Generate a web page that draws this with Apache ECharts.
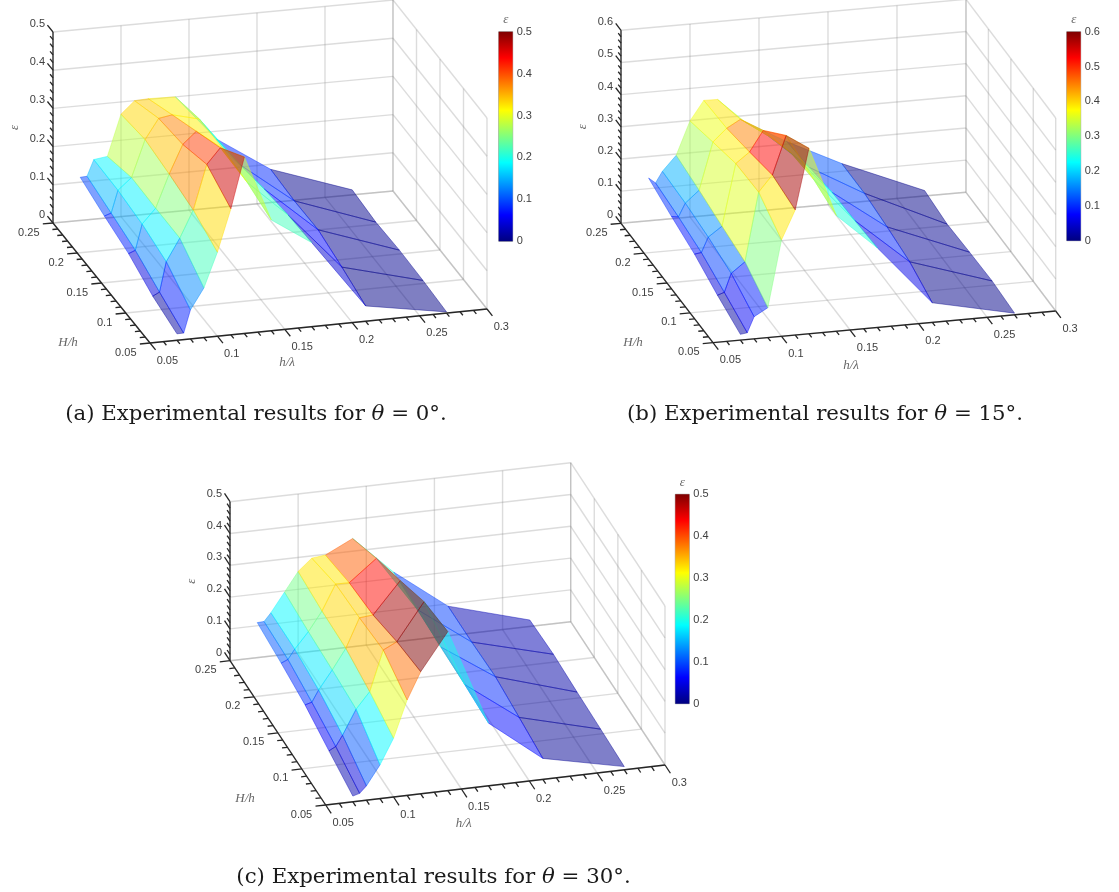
<!DOCTYPE html>
<html>
<head>
<meta charset="utf-8">
<title>Experimental results</title>
<style>
html,body{margin:0;padding:0;background:#fff;}
#main{width:1119px;height:892px;}
</style>
<script src="https://cdn.jsdelivr.net/npm/echarts@6/dist/echarts.min.js"></script>
</head>
<body>
<div id="main"></div>
<script>
// h/lambda and H/h of the measured points
var xValues = [0.07, 0.075, 0.08, 0.09, 0.1, 0.11, 0.12, 0.14, 0.17, 0.21, 0.27];
var yValues = [0.05, 0.1, 0.15, 0.2, 0.25];

// epsilon, one row per H/h
var epsA = [
    [0.017, 0.017, 0.076, 0.13, 0.22, 0.33, 0.462, 0.29, 0.22, 0.04, 0.003],
    [0.037, 0.046, 0.124, 0.182, 0.252, 0.368, 0.408, 0.31, 0.215, 0.064, 0.008],
    [0.07, 0.077, 0.144, 0.182, 0.268, 0.342, 0.373, 0.32, 0.205, 0.084, 0.01],
    [0.09, 0.096, 0.154, 0.184, 0.28, 0.332, 0.338, 0.32, 0.19, 0.082, 0.006],
    [0.113, 0.114, 0.156, 0.161, 0.268, 0.3, 0.302, 0.3, 0.18, 0.087, 0.013]
];
var epsB = [
    [0.018, 0.021, 0.069, 0.093, 0.3, 0.389, 0.577, 0.36, 0.247, 0.061, 0.005],
    [0.047, 0.054, 0.111, 0.143, 0.356, 0.405, 0.524, 0.38, 0.24, 0.096, 0.013],
    [0.082, 0.085, 0.131, 0.161, 0.352, 0.384, 0.447, 0.37, 0.235, 0.112, 0.01],
    [0.106, 0.103, 0.144, 0.18, 0.326, 0.365, 0.389, 0.33, 0.22, 0.124, 0.005],
    [0.133, 0.116, 0.15, 0.196, 0.299, 0.359, 0.358, 0.28, 0.208, 0.124, 0.017]
];
var epsC = [
    [0.018, 0.024, 0.045, 0.106, 0.185, 0.3, 0.384, 0.5, 0.197, 0.066, 0.01],
    [0.047, 0.058, 0.091, 0.168, 0.218, 0.344, 0.365, 0.481, 0.205, 0.082, 0.015],
    [0.078, 0.084, 0.12, 0.178, 0.241, 0.332, 0.336, 0.434, 0.21, 0.097, 0.019],
    [0.096, 0.105, 0.135, 0.185, 0.245, 0.325, 0.324, 0.391, 0.215, 0.093, 0.025],
    [0.11, 0.111, 0.136, 0.196, 0.256, 0.293, 0.298, 0.34, 0.22, 0.093, 0.02]
];

// tick labels
var xTicks = [0.05, 0.1, 0.15, 0.2, 0.25, 0.3];
var yTicks = [0.05, 0.1, 0.15, 0.2, 0.25];
var zTicksA = [0, 0.1, 0.2, 0.3, 0.4, 0.5];
var zTicksB = [0, 0.1, 0.2, 0.3, 0.4, 0.5, 0.6];
var zTicksC = [0, 0.1, 0.2, 0.3, 0.4, 0.5];

var jet = ['#00007f', '#0000ff', '#007fff', '#00ffff', '#7fff7f', '#ffff00', '#ff7f00', '#ff0000', '#7f0000'];

var xMin = 0.05, xMax = 0.3, yMin = 0.05, yMax = 0.25;

// screen corners of the floor of each box: B = near, C = right, A = left, D = back
var panels = [
    {eps: epsA, zTicks: zTicksA, A: [53, 223], B: [150, 343], C: [487, 309], D: [393, 191], h: 191,
        bar: [498.7, 31.7, 14, 209.6], hLabel: [-82, 0], lLabel: [137, 20],
        caption: '(a) Experimental results for {i|θ} = 0°.', capX: 256, capY: 412},
    {eps: epsB, zTicks: zTicksB, A: [621, 223.3], B: [713, 342.7], C: [1055.7, 311], D: [966, 192.3], h: 193,
        bar: [1066.7, 31.7, 14, 209], hLabel: [-80, 0], lLabel: [138, 23],
        caption: '(b) Experimental results for {i|θ} = 15°.', capX: 825, capY: 412},
    {eps: epsC, zTicks: zTicksC, A: [230, 660.7], B: [325.7, 805], C: [665, 765], D: [570.7, 621.7], h: 159,
        bar: [675.3, 494.3, 14, 209.4], hLabel: [-80.7, -6.7], lLabel: [138, 19],
        caption: '(c) Experimental results for {i|θ} = 30°.', capX: 433.5, capY: 875}
];

function project(p, x, y, z){
    var s = (x - xMin) / (xMax - xMin);
    var t = (y - yMin) / (yMax - yMin);
    var zMax = p.zTicks[p.zTicks.length - 1];
    return [
        p.B[0] * (1 - s) * (1 - t) + p.C[0] * s * (1 - t) + p.A[0] * (1 - s) * t + p.D[0] * s * t,
        p.B[1] * (1 - s) * (1 - t) + p.C[1] * s * (1 - t) + p.A[1] * (1 - s) * t + p.D[1] * s * t - p.h * z / zMax
    ];
}

// faces of the surface, far ones first. Colour comes from the higher h/lambda, lower H/h corner
function buildFaces(p){
    var zMax = p.zTicks[p.zTicks.length - 1];
    var faces = [];
    for(var j = 0; j < yValues.length - 1; j++){
        for(var i = 0; i < xValues.length - 1; i++){
            faces.push([
                xValues[i], xValues[i + 1], yValues[j], yValues[j + 1],
                p.eps[j][i], p.eps[j][i + 1], p.eps[j + 1][i], p.eps[j + 1][i + 1],
                p.eps[j][i + 1]
            ]);
        }
    }
    function depth(f){
        var mz = (f[4] + f[5] + f[6] + f[7]) / 4 / zMax;
        return (f[0] + f[1]) / 2 / (xMax - xMin) * 0.7 + (f[2] + f[3]) / 2 / (yMax - yMin) * 0.7 - mz * 0.5;
    }
    faces.sort(function(a, b){ return depth(b) - depth(a); });
    return faces;
}

function segmentSeries(p, segs, color, width, z){
    return {
        type: 'custom',
        coordinateSystem: 'cartesian2d',
        xAxisIndex: 0,
        yAxisIndex: 0,
        silent: true,
        clip: false,
        z: z,
        data: segs,
        renderItem: function(params, api){
            var a = api.coord(project(p, api.value(0), api.value(1), api.value(2)));
            var b = api.coord(project(p, api.value(3), api.value(4), api.value(5)));
            return {
                type: 'line',
                shape: {x1: a[0], y1: a[1], x2: b[0], y2: b[1]},
                style: {stroke: color, lineWidth: width, fill: null}
            };
        }
    };
}

function wallLines(p){
    var zMax = p.zTicks[p.zTicks.length - 1];
    var segs = [];
    xTicks.forEach(function(x){
        segs.push([x, yMax, 0, x, yMax, zMax]);
        segs.push([x, yMin, 0, x, yMax, 0]);
    });
    yTicks.forEach(function(y){
        segs.push([xMax, y, 0, xMax, y, zMax]);
        segs.push([xMin, y, 0, xMax, y, 0]);
    });
    p.zTicks.forEach(function(z){
        segs.push([xMin, yMax, z, xMax, yMax, z]);
        segs.push([xMax, yMin, z, xMax, yMax, z]);
    });
    return segs;
}

function axisLines(p){
    var zMax = p.zTicks[p.zTicks.length - 1];
    var segs = [
        [xMin, yMin, 0, xMax, yMin, 0],
        [xMin, yMin, 0, xMin, yMax, 0],
        [xMin, yMax, 0, xMin, yMax, zMax]
    ];
    var k, v;
    for(k = 0; k <= 25; k++){
        v = xMin + k * 0.01;
        segs.push([v, yMin, 0, v, yMin - (k % 5 == 0 ? 0.0115 : 0.006), 0]);
    }
    for(k = 0; k <= 20; k++){
        v = yMin + k * 0.01;
        segs.push([xMin, v, 0, xMin - (k % 5 == 0 ? 0.0075 : 0.004), v, 0]);
    }
    var zStep = 0.02;
    var n = Math.round(zMax / zStep);
    for(k = 0; k <= n; k++){
        v = k * zStep;
        segs.push([xMin, yMax, v, xMin, yMax + (k % 5 == 0 ? 0.0115 : 0.006), v]);
    }
    return segs;
}

function tickLabels(p){
    var items = [];
    xTicks.forEach(function(x){
        items.push({x: x, y: yMin, z: 0, dx: 6.7, dy: 17.5, text: String(x), align: 'left'});
    });
    yTicks.forEach(function(y){
        items.push({x: xMin, y: y, z: 0, dx: -13.5, dy: 9.5, text: String(y), align: 'right'});
    });
    p.zTicks.forEach(function(z){
        items.push({x: xMin, y: yMax, z: z, dx: -8, dy: -8, text: String(z), align: 'right'});
    });
    return items;
}

var option = {
    animation: false,
    backgroundColor: '#fff',
    title: [],
    grid: [{left: 0, top: 0, width: 1119, height: 892}],
    xAxis: [{type: 'value', min: 0, max: 1119, show: false}],
    yAxis: [{type: 'value', min: 0, max: 892, inverse: true, show: false}],
    visualMap: [],
    graphic: [],
    series: []
};

panels.forEach(function(p, n){
    var zMax = p.zTicks[p.zTicks.length - 1];

    option.series.push(segmentSeries(p, wallLines(p), 'rgba(140,140,140,0.3)', 1.4, 1));

    option.visualMap.push({
        show: false,
        seriesIndex: option.series.length,
        dimension: 8,
        min: 0,
        max: zMax,
        inRange: {color: jet}
    });
    option.series.push({
        type: 'custom',
        coordinateSystem: 'cartesian2d',
        xAxisIndex: 0,
        yAxisIndex: 0,
        silent: true,
        clip: false,
        z: 2,
        data: buildFaces(p),
        renderItem: function(params, api){
            var x0 = api.value(0), x1 = api.value(1), y0 = api.value(2), y1 = api.value(3);
            var pts = [
                api.coord(project(p, x0, y0, api.value(4))),
                api.coord(project(p, x1, y0, api.value(5))),
                api.coord(project(p, x1, y1, api.value(7))),
                api.coord(project(p, x0, y1, api.value(6)))
            ];
            var c = api.visual('color');
            return {
                type: 'polygon',
                shape: {points: pts},
                style: {
                    fill: echarts.color.modifyAlpha(c, 0.5),
                    stroke: echarts.color.modifyAlpha(c, 0.6),
                    lineWidth: 0.7
                }
            };
        }
    });

    option.series.push(segmentSeries(p, axisLines(p), '#262626', 1.3, 3));

    var labels = tickLabels(p);
    option.series.push({
        type: 'custom',
        coordinateSystem: 'cartesian2d',
        xAxisIndex: 0,
        yAxisIndex: 0,
        silent: true,
        clip: false,
        z: 4,
        data: labels.map(function(l){ return [l.x, l.y, l.z]; }),
        renderItem: function(params, api){
            var l = labels[params.dataIndex];
            var c = api.coord(project(p, api.value(0), api.value(1), api.value(2)));
            return {
                type: 'text',
                x: c[0] + l.dx,
                y: c[1] + l.dy,
                style: {
                    text: l.text,
                    fill: '#404040',
                    font: '11px "Liberation Sans"',
                    align: l.align,
                    verticalAlign: 'middle'
                }
            };
        }
    });

    // axis names
    var nameFont = 'italic 13px "Liberation Serif"';
    var epsFont = 'italic 13px "Liberation Serif"';
    option.graphic.push({type: 'text', x: p.B[0] + p.hLabel[0], y: p.B[1] + p.hLabel[1], silent: true,
        style: {text: 'H/h', fill: '#666', font: nameFont, align: 'center', verticalAlign: 'middle'}});
    option.graphic.push({type: 'text', x: p.B[0] + p.lLabel[0], y: p.B[1] + p.lLabel[1], silent: true,
        style: {text: 'h/λ', fill: '#666', font: nameFont, align: 'center', verticalAlign: 'middle'}});
    option.graphic.push({type: 'text', x: p.A[0] - 38, y: p.A[1] - p.h / 2, rotation: Math.PI / 2, silent: true,
        style: {text: 'ε', fill: '#666', font: epsFont, align: 'center', verticalAlign: 'middle'}});
    option.graphic.push({type: 'text', x: p.bar[0] + p.bar[2] / 2, y: p.bar[1] - 12, silent: true,
        style: {text: 'ε', fill: '#666', font: epsFont, align: 'center', verticalAlign: 'middle'}});

    // colour bar
    var g = option.grid.length;
    option.grid.push({show: true, left: p.bar[0], top: p.bar[1], width: p.bar[2], height: p.bar[3],
        borderColor: '#8a8a8a', borderWidth: 0.8, backgroundColor: 'transparent'});
    option.xAxis.push({type: 'category', gridIndex: g, data: ['ε'], show: false});
    option.yAxis.push({
        type: 'value',
        gridIndex: g,
        position: 'right',
        min: 0,
        max: zMax,
        interval: 0.1,
        splitLine: {show: false},
        axisLine: {show: false},
        axisTick: {inside: true, length: 2, lineStyle: {color: '#555', width: 0.8}},
        axisLabel: {margin: 4, fontSize: 11, color: '#404040', fontFamily: 'Liberation Sans', align: 'left'}
    });
    var stops = jet.map(function(c, k){ return {offset: k / (jet.length - 1), color: c}; });
    option.series.push({
        type: 'bar',
        xAxisIndex: g,
        yAxisIndex: g,
        silent: true,
        barWidth: '100%',
        z: 2,
        data: [zMax],
        itemStyle: {color: new echarts.graphic.LinearGradient(0, 1, 0, 0, stops)}
    });

    // caption
    option.title.push({
        text: p.caption,
        left: p.capX,
        top: p.capY - 8,
        textAlign: 'center',
        padding: 0,
        textStyle: {
            fontFamily: 'DejaVu Serif',
            fontWeight: 'normal',
            fontSize: 21.3,
            color: '#1a1a1a',
            rich: {i: {fontStyle: 'italic', fontFamily: 'DejaVu Serif', fontSize: 21.3, color: '#1a1a1a'}}
        }
    });
});

var myChart = echarts.init(document.getElementById('main'));
myChart.setOption(option);
</script>
</body>
</html>
